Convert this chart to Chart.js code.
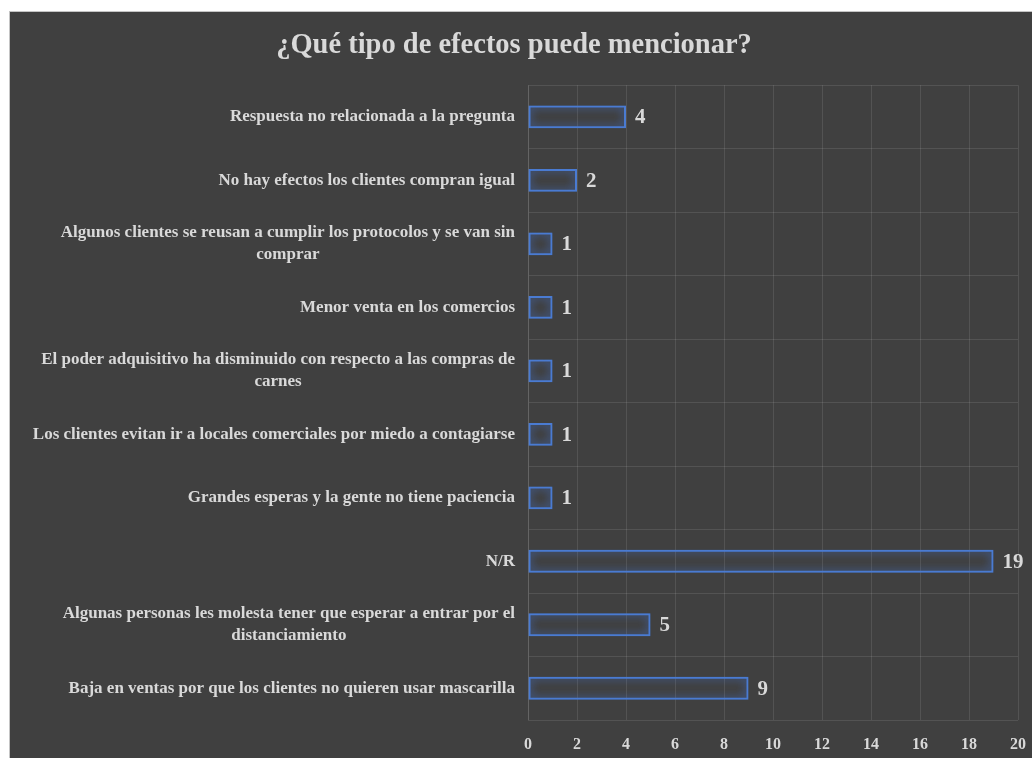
<!DOCTYPE html>
<html>
<head>
<meta charset="utf-8">
<script src="https://cdn.jsdelivr.net/npm/chart.js@4.4.0/dist/chart.umd.min.js"></script>
<style>
  html, body { margin: 0; padding: 0; background: #ffffff; }
  #wrap {
    position: absolute; left: 9px; top: 11px;
    width: 1022px; height: 746px;
    background: #404040;
    border-left: 1px solid #c4c4c4; border-top: 1px solid #c4c4c4;
  }
  canvas { display: block; }
</style>
</head>
<body>
<div id="wrap"><canvas id="chart" width="1022" height="746"></canvas></div>
<script>
// Categories top to bottom, as in the picture
const categories = [
  ['Respuesta no relacionada a la pregunta'],
  ['No hay efectos los clientes compran igual'],
  ['Algunos clientes se reusan a cumplir los protocolos y se van sin', 'comprar'],
  ['Menor venta en los comercios'],
  ['El poder adquisitivo ha disminuido con respecto a las compras de', 'carnes'],
  ['Los clientes evitan ir a locales comerciales por miedo a contagiarse'],
  ['Grandes esperas y la gente no tiene paciencia'],
  ['N/R'],
  ['Algunas personas les molesta tener que esperar a entrar por el', 'distanciamiento'],
  ['Baja en ventas por que los clientes no quieren usar mascarilla']
];
const counts = [4, 2, 1, 1, 1, 1, 1, 19, 5, 9];
const xTicks = [0, 2, 4, 6, 8, 10, 12, 14, 16, 18, 20];

const SERIF = '"Liberation Serif", "Times New Roman", serif';
const TEXT = '#d9d9d9';

// Blue glow round the bar outlines
const glowPlugin = {
  id: 'glow',
  beforeDatasetsDraw(chart) {
    const ctx = chart.ctx;
    ctx.save();
    ctx.shadowColor = 'rgba(70, 125, 235, 0.95)';
    ctx.shadowBlur = 9;
  },
  afterDatasetsDraw(chart) {
    chart.ctx.restore();
  }
};

// Category labels: right edge fixed, wrapped lines centred on each other
const labelPlugin = {
  id: 'catLabels',
  afterDraw(chart) {
    const ctx = chart.ctx;
    const yScale = chart.scales.y;
    const right = chart.chartArea.left - 13;
    const lineH = 22;
    ctx.save();
    ctx.font = 'bold 17px ' + SERIF;
    ctx.fillStyle = TEXT;
    ctx.textBaseline = 'middle';
    ctx.textAlign = 'center';
    categories.forEach((lines, i) => {
      const cy = yScale.getPixelForValue(i);
      const w = Math.max(...lines.map(l => ctx.measureText(l).width));
      const mid = right - w / 2;
      const y0 = cy - (lines.length - 1) * lineH / 2;
      lines.forEach((l, k) => ctx.fillText(l, mid, y0 + k * lineH));
    });
    ctx.restore();
  }
};

// Value labels at the end of each bar
const valuePlugin = {
  id: 'values',
  afterDatasetsDraw(chart) {
    const ctx = chart.ctx;
    const meta = chart.getDatasetMeta(0);
    ctx.save();
    ctx.shadowBlur = 0;
    ctx.shadowColor = 'transparent';
    ctx.font = 'bold 21px ' + SERIF;
    ctx.fillStyle = TEXT;
    ctx.textAlign = 'left';
    ctx.textBaseline = 'middle';
    meta.data.forEach((bar, i) => {
      ctx.fillText(String(counts[i]), bar.x + 9, bar.y + 1);
    });
    ctx.restore();
  }
};

const ctx = document.getElementById('chart').getContext('2d');
new Chart(ctx, {
  type: 'bar',
  data: {
    labels: categories,
    datasets: [{
      data: counts,
      backgroundColor: 'rgba(0, 0, 0, 0)',
      borderColor: '#4a7bd2',
      borderWidth: 2,
      borderSkipped: false,
      categoryPercentage: 1,
      barPercentage: 0.36
    }]
  },
  options: {
    indexAxis: 'y',
    responsive: false,
    animation: false,
    layout: { padding: { left: 0, right: 14, top: 0, bottom: 0 } },
    scales: {
      x: {
        min: 0,
        max: 20,
        afterBuildTicks(scale) {
          scale.ticks = xTicks.map(v => ({ value: v }));
        },
        afterFit(scale) {
          scale.height = 38;
          scale.paddingLeft = 0;
          scale.paddingRight = 0;
        },
        grid: { color: 'rgba(255,255,255,0.1)', drawTicks: false },
        border: { display: false },
        ticks: {
          color: TEXT,
          padding: 15,
          font: { family: SERIF, size: 16, weight: 'bold' }
        }
      },
      y: {
        afterFit(scale) { scale.width = 518; },
        grid: { color: 'rgba(255,255,255,0.1)', drawTicks: false, offset: true },
        border: { display: true, color: 'rgba(255,255,255,0.1)' },
        ticks: { display: false }
      }
    },
    plugins: {
      legend: { display: false },
      tooltip: { enabled: false },
      title: {
        display: true,
        text: '¿Qué tipo de efectos puede mencionar?',
        color: TEXT,
        padding: { top: 17, bottom: 22 },
        font: { family: SERIF, size: 28.5, weight: 'bold' }
      }
    }
  },
  plugins: [glowPlugin, valuePlugin, labelPlugin]
});
</script>
</body>
</html>
